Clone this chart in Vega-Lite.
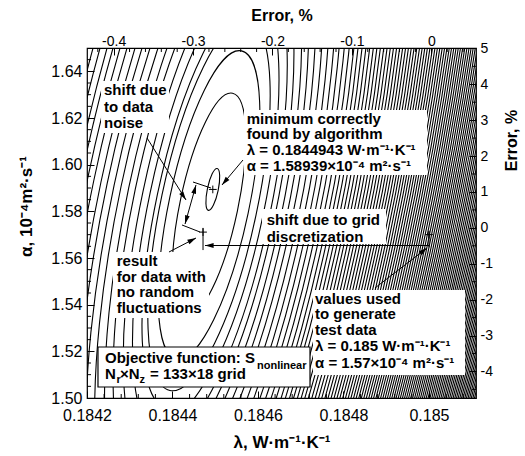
{
 "$schema": "https://vega.github.io/schema/vega-lite/v6.json",
 "width": 389, "height": 350,
 "autosize": {"type": "none"},
 "padding": {"left": 87, "top": 48, "right": 49, "bottom": 58},
 "background": "white",
 "config": {
  "view": {"stroke": "black", "strokeWidth": 1.2},
  "axis": {"domain": false, "grid": false, "labelFont": "Liberation Sans", "titleFont": "Liberation Sans", "titleFontWeight": "bold", "labelColor": "black", "titleColor": "black", "tickColor": "black", "tickWidth": 1, "labelFlush": false, "labelOverlap": false, "labelBound": false}
 },
 "datasets": {
  "contours": [
   {"b":"full","lam":0.1844943,"alpha":1.58939,"level":0.035},
   {"b":"full","lam":0.1844854,"alpha":1.5827,"level":1},
   {"b":"full","lam":0.1844854,"alpha":1.5827,"level":1.9},
   {"b":"full","lam":0.1844854,"alpha":1.5827,"level":2.75},
   {"b":"left","lam":0.1844854,"alpha":1.5827,"level":3.3},
   {"b":"left","lam":0.1844854,"alpha":1.5827,"level":4.3},
   {"b":"left","lam":0.1844854,"alpha":1.5827,"level":5.4},
   {"b":"left","lam":0.1844854,"alpha":1.5827,"level":6.76},
   {"b":"left","lam":0.1844854,"alpha":1.5827,"level":8.02},
   {"b":"left","lam":0.1844854,"alpha":1.5827,"level":9.61},
   {"b":"left","lam":0.1844854,"alpha":1.5827,"level":11.18},
   {"b":"left","lam":0.1844854,"alpha":1.5827,"level":12.89},
   {"b":"left","lam":0.1844854,"alpha":1.5827,"level":14.51},
   {"b":"left","lam":0.1844854,"alpha":1.5827,"level":16.5},
   {"b":"left","lam":0.1844854,"alpha":1.5827,"level":18.36},
   {"b":"left","lam":0.1844854,"alpha":1.5827,"level":20.33},
   {"b":"left","lam":0.1844854,"alpha":1.5827,"level":22.1},
   {"b":"left","lam":0.1844854,"alpha":1.5827,"level":24.28},
   {"b":"left","lam":0.1844854,"alpha":1.5827,"level":26.57},
   {"b":"left","lam":0.1844854,"alpha":1.5827,"level":28.9},
   {"b":"right","lam":0.1844854,"alpha":1.5827,"level":3.6},
   {"b":"right","lam":0.1844854,"alpha":1.5827,"level":4.5},
   {"b":"right","lam":0.1844854,"alpha":1.5827,"level":5.3},
   {"b":"right","lam":0.1844854,"alpha":1.5827,"level":6.3},
   {"b":"right","lam":0.1844854,"alpha":1.5827,"level":7.3},
   {"b":"right","lam":0.1844854,"alpha":1.5827,"level":8.4},
   {"b":"right","lam":0.1844854,"alpha":1.5827,"level":9.6},
   {"b":"right","lam":0.1844854,"alpha":1.5827,"level":10.8},
   {"b":"right","lam":0.1844854,"alpha":1.5827,"level":12.0},
   {"b":"right","lam":0.1844854,"alpha":1.5827,"level":13.2},
   {"b":"right","lam":0.1844854,"alpha":1.5827,"level":14.4},
   {"b":"right","lam":0.1844854,"alpha":1.5827,"level":15.6},
   {"b":"right","lam":0.1844854,"alpha":1.5827,"level":16.8},
   {"b":"right","lam":0.1844854,"alpha":1.5827,"level":17.9},
   {"b":"right","lam":0.1844854,"alpha":1.5827,"level":19.0},
   {"b":"right","lam":0.1844854,"alpha":1.5827,"level":20.1},
   {"b":"right","lam":0.1844854,"alpha":1.5827,"level":21.2},
   {"b":"right","lam":0.1844854,"alpha":1.5827,"level":22.3},
   {"b":"right","lam":0.1844854,"alpha":1.5827,"level":23.4},
   {"b":"right","lam":0.1844854,"alpha":1.5827,"level":24.5},
   {"b":"right","lam":0.1844854,"alpha":1.5827,"level":25.6},
   {"b":"right","lam":0.1844854,"alpha":1.5827,"level":26.7},
   {"b":"right","lam":0.1844854,"alpha":1.5827,"level":27.8},
   {"b":"right","lam":0.1844854,"alpha":1.5827,"level":28.9},
   {"b":"right","lam":0.1844854,"alpha":1.5827,"level":30.0},
   {"b":"right","lam":0.1844854,"alpha":1.5827,"level":31.1},
   {"b":"right","lam":0.1844854,"alpha":1.5827,"level":32.2},
   {"b":"right","lam":0.1844854,"alpha":1.5827,"level":33.3},
   {"b":"right","lam":0.1844854,"alpha":1.5827,"level":34.4},
   {"b":"right","lam":0.1844854,"alpha":1.5827,"level":35.5},
   {"b":"right","lam":0.1844854,"alpha":1.5827,"level":36.6},
   {"b":"right","lam":0.1844854,"alpha":1.5827,"level":37.7},
   {"b":"right","lam":0.1844854,"alpha":1.5827,"level":38.8},
   {"b":"right","lam":0.1844854,"alpha":1.5827,"level":39.9},
   {"b":"right","lam":0.1844854,"alpha":1.5827,"level":41.0},
   {"b":"right","lam":0.1844854,"alpha":1.5827,"level":42.1},
   {"b":"right","lam":0.1844854,"alpha":1.5827,"level":43.2},
   {"b":"right","lam":0.1844854,"alpha":1.5827,"level":44.3},
   {"b":"right","lam":0.1844854,"alpha":1.5827,"level":45.4},
   {"b":"right","lam":0.1844854,"alpha":1.5827,"level":46.5},
   {"b":"right","lam":0.1844854,"alpha":1.5827,"level":47.6},
   {"b":"right","lam":0.1844854,"alpha":1.5827,"level":48.7},
   {"b":"right","lam":0.1844854,"alpha":1.5827,"level":49.8},
   {"b":"right","lam":0.1844854,"alpha":1.5827,"level":50.9},
   {"b":"right","lam":0.1844854,"alpha":1.5827,"level":52.0},
   {"b":"right","lam":0.1844854,"alpha":1.5827,"level":53.1},
   {"b":"right","lam":0.1844854,"alpha":1.5827,"level":54.2},
   {"b":"right","lam":0.1844854,"alpha":1.5827,"level":55.3},
   {"b":"right","lam":0.1844854,"alpha":1.5827,"level":56.4},
   {"b":"right","lam":0.1844854,"alpha":1.5827,"level":57.5},
   {"b":"right","lam":0.1844854,"alpha":1.5827,"level":58.6},
   {"b":"right","lam":0.1844854,"alpha":1.5827,"level":59.7},
   {"b":"right","lam":0.1844854,"alpha":1.5827,"level":60.8},
   {"b":"right","lam":0.1844854,"alpha":1.5827,"level":61.9},
   {"b":"right","lam":0.1844854,"alpha":1.5827,"level":63.0},
   {"b":"right","lam":0.1844854,"alpha":1.5827,"level":64.1},
   {"b":"right","lam":0.1844854,"alpha":1.5827,"level":65.2},
   {"b":"right","lam":0.1844854,"alpha":1.5827,"level":66.3},
   {"b":"right","lam":0.1844854,"alpha":1.5827,"level":67.4},
   {"b":"right","lam":0.1844854,"alpha":1.5827,"level":68.5},
   {"b":"right","lam":0.1844854,"alpha":1.5827,"level":69.6},
   {"b":"right","lam":0.1844854,"alpha":1.5827,"level":70.7},
   {"b":"right","lam":0.1844854,"alpha":1.5827,"level":71.8},
   {"b":"right","lam":0.1844854,"alpha":1.5827,"level":72.9},
   {"b":"right","lam":0.1844854,"alpha":1.5827,"level":74.0},
   {"b":"right","lam":0.1844854,"alpha":1.5827,"level":75.1},
   {"b":"right","lam":0.1844854,"alpha":1.5827,"level":76.2},
   {"b":"right","lam":0.1844854,"alpha":1.5827,"level":77.3},
   {"b":"right","lam":0.1844854,"alpha":1.5827,"level":78.4},
   {"b":"right","lam":0.1844854,"alpha":1.5827,"level":79.5},
   {"b":"right","lam":0.1844854,"alpha":1.5827,"level":80.6},
   {"b":"right","lam":0.1844854,"alpha":1.5827,"level":81.7},
   {"b":"right","lam":0.1844854,"alpha":1.5827,"level":82.8},
   {"b":"right","lam":0.1844854,"alpha":1.5827,"level":83.9},
   {"b":"right","lam":0.1844854,"alpha":1.5827,"level":85.0},
   {"b":"right","lam":0.1844854,"alpha":1.5827,"level":86.1},
   {"b":"right","lam":0.1844854,"alpha":1.5827,"level":87.2},
   {"b":"right","lam":0.1844854,"alpha":1.5827,"level":88.3},
   {"b":"right","lam":0.1844854,"alpha":1.5827,"level":89.4},
   {"b":"right","lam":0.1844854,"alpha":1.5827,"level":90.5},
   {"b":"right","lam":0.1844854,"alpha":1.5827,"level":91.6},
   {"b":"right","lam":0.1844854,"alpha":1.5827,"level":92.7},
   {"b":"right","lam":0.1844854,"alpha":1.5827,"level":93.8},
   {"b":"right","lam":0.1844854,"alpha":1.5827,"level":94.9},
   {"b":"right","lam":0.1844854,"alpha":1.5827,"level":96.0},
   {"b":"right","lam":0.1844854,"alpha":1.5827,"level":97.1},
   {"b":"right","lam":0.1844854,"alpha":1.5827,"level":98.2},
   {"b":"right","lam":0.1844854,"alpha":1.5827,"level":99.3},
   {"b":"right","lam":0.1844854,"alpha":1.5827,"level":100.4},
   {"b":"right","lam":0.1844854,"alpha":1.5827,"level":101.5},
   {"b":"right","lam":0.1844854,"alpha":1.5827,"level":102.6},
   {"b":"right","lam":0.1844854,"alpha":1.5827,"level":103.7},
   {"b":"right","lam":0.1844854,"alpha":1.5827,"level":104.8},
   {"b":"right","lam":0.1844854,"alpha":1.5827,"level":105.9},
   {"b":"right","lam":0.1844854,"alpha":1.5827,"level":107.0},
   {"b":"right","lam":0.1844854,"alpha":1.5827,"level":108.1},
   {"b":"right","lam":0.1844854,"alpha":1.5827,"level":109.2}
  ],
  "boxes": [
   {"lam":0.1842328,"lam2":0.1843918,"alpha":1.635857,"alpha2":1.613571},
   {"lam":0.1845673,"lam2":0.1849954,"alpha":1.623429,"alpha2":1.595571},
   {"lam":0.1846094,"lam2":0.1848995,"alpha":1.581,"alpha2":1.566},
   {"lam":0.1842608,"lam2":0.1844854,"alpha":1.562571,"alpha2":1.534286},
   {"lam":0.1847287,"lam2":0.1850843,"alpha":1.546286,"alpha2":1.509857}
  ],
  "framed": [
   {"lam":0.1842257,"lam2":0.1847217,"alpha":1.521857,"alpha2":1.504714}
  ],
  "lines": [
   {"lam":0.1843404,"alpha":1.611429,"lam2":0.1844316,"alpha2":1.584857},
   {"lam":0.184455,"alpha":1.591286,"lam2":0.1844293,"alpha2":1.574571},
   {"lam":0.1845649,"alpha":1.602,"lam2":0.1845158,"alpha2":1.591286},
   {"lam":0.1843918,"alpha":1.562571,"lam2":0.184455,"alpha2":1.568571},
   {"lam":0.185,"alpha":1.565357,"lam2":0.184476,"alpha2":1.565357},
   {"lam":0.1848737,"alpha":1.547143,"lam2":0.1849954,"alpha2":1.564286},
   {"lam":0.184448,"alpha":1.592571,"lam2":0.1844901,"alpha2":1.59},
   {"lam":0.1844222,"alpha":1.574143,"lam2":0.1844643,"alpha2":1.571143},
   {"lam":0.1844714,"alpha":1.5729,"lam2":0.1844714,"alpha2":1.5634},
   {"lam":0.185,"alpha":1.5714,"lam2":0.185,"alpha2":1.5646}
  ],
  "minorTicks": [
   {"lam":0.1842,"lam2":0.1842094,"alpha":1.505,"alpha2":1.505},
   {"lam":0.1842,"lam2":0.1842094,"alpha":1.51,"alpha2":1.51},
   {"lam":0.1842,"lam2":0.1842094,"alpha":1.515,"alpha2":1.515},
   {"lam":0.1842,"lam2":0.1842094,"alpha":1.525,"alpha2":1.525},
   {"lam":0.1842,"lam2":0.1842094,"alpha":1.53,"alpha2":1.53},
   {"lam":0.1842,"lam2":0.1842094,"alpha":1.535,"alpha2":1.535},
   {"lam":0.1842,"lam2":0.1842094,"alpha":1.545,"alpha2":1.545},
   {"lam":0.1842,"lam2":0.1842094,"alpha":1.55,"alpha2":1.55},
   {"lam":0.1842,"lam2":0.1842094,"alpha":1.555,"alpha2":1.555},
   {"lam":0.1842,"lam2":0.1842094,"alpha":1.565,"alpha2":1.565},
   {"lam":0.1842,"lam2":0.1842094,"alpha":1.57,"alpha2":1.57},
   {"lam":0.1842,"lam2":0.1842094,"alpha":1.575,"alpha2":1.575},
   {"lam":0.1842,"lam2":0.1842094,"alpha":1.585,"alpha2":1.585},
   {"lam":0.1842,"lam2":0.1842094,"alpha":1.59,"alpha2":1.59},
   {"lam":0.1842,"lam2":0.1842094,"alpha":1.595,"alpha2":1.595},
   {"lam":0.1842,"lam2":0.1842094,"alpha":1.605,"alpha2":1.605},
   {"lam":0.1842,"lam2":0.1842094,"alpha":1.61,"alpha2":1.61},
   {"lam":0.1842,"lam2":0.1842094,"alpha":1.615,"alpha2":1.615},
   {"lam":0.1842,"lam2":0.1842094,"alpha":1.625,"alpha2":1.625},
   {"lam":0.1842,"lam2":0.1842094,"alpha":1.63,"alpha2":1.63},
   {"lam":0.1842,"lam2":0.1842094,"alpha":1.635,"alpha2":1.635},
   {"lam":0.1842,"lam2":0.1842094,"alpha":1.645,"alpha2":1.645},
   {"lam":0.18424,"lam2":0.18424,"alpha":1.5,"alpha2":1.501714},
   {"lam":0.18428,"lam2":0.18428,"alpha":1.5,"alpha2":1.501714},
   {"lam":0.18432,"lam2":0.18432,"alpha":1.5,"alpha2":1.501714},
   {"lam":0.18436,"lam2":0.18436,"alpha":1.5,"alpha2":1.501714},
   {"lam":0.18444,"lam2":0.18444,"alpha":1.5,"alpha2":1.501714},
   {"lam":0.18448,"lam2":0.18448,"alpha":1.5,"alpha2":1.501714},
   {"lam":0.18452,"lam2":0.18452,"alpha":1.5,"alpha2":1.501714},
   {"lam":0.18456,"lam2":0.18456,"alpha":1.5,"alpha2":1.501714},
   {"lam":0.18464,"lam2":0.18464,"alpha":1.5,"alpha2":1.501714},
   {"lam":0.18468,"lam2":0.18468,"alpha":1.5,"alpha2":1.501714},
   {"lam":0.18472,"lam2":0.18472,"alpha":1.5,"alpha2":1.501714},
   {"lam":0.18476,"lam2":0.18476,"alpha":1.5,"alpha2":1.501714},
   {"lam":0.18484,"lam2":0.18484,"alpha":1.5,"alpha2":1.501714},
   {"lam":0.18488,"lam2":0.18488,"alpha":1.5,"alpha2":1.501714},
   {"lam":0.18492,"lam2":0.18492,"alpha":1.5,"alpha2":1.501714},
   {"lam":0.18496,"lam2":0.18496,"alpha":1.5,"alpha2":1.501714},
   {"lam":0.18504,"lam2":0.18504,"alpha":1.5,"alpha2":1.501714},
   {"lam":0.18508,"lam2":0.18508,"alpha":1.5,"alpha2":1.501714}
  ],
  "heads": [
   {"lam":0.1844316,"alpha":1.584857,"head":"a"},
   {"lam":0.184455,"alpha":1.591286,"head":"bu"},
   {"lam":0.1844293,"alpha":1.574571,"head":"bd"},
   {"lam":0.1845158,"alpha":1.591286,"head":"c"},
   {"lam":0.184455,"alpha":1.568571,"head":"d"},
   {"lam":0.184476,"alpha":1.565357,"head":"e"},
   {"lam":0.1849954,"alpha":1.564286,"head":"f"}
  ],
  "markers": [
   {"lam":0.1844943,"alpha":1.58939,"what":"minimum"},
   {"lam":0.1844714,"alpha":1.5711,"what":"result"},
   {"lam":0.185,"alpha":1.57,"what":"true values"}
  ],
  "texts": [
   {"lam":0.1842398,"alpha":1.629643,"text":"shift due"},
   {"lam":0.1842398,"alpha":1.6227,"text":"to data"},
   {"lam":0.1842398,"alpha":1.615714,"text":"noise"},
   {"lam":0.1845736,"alpha":1.617429,"text":"minimum correctly"},
   {"lam":0.1845736,"alpha":1.610786,"text":"found by algorithm"},
   {"lam":0.1845736,"alpha":1.604143,"text":"λ = 0.1844943 W·m⁻¹·K⁻¹"},
   {"lam":0.1845736,"alpha":1.597286,"text":"α = 1.58939×10⁻⁴ m²·s⁻¹"},
   {"lam":0.1846204,"alpha":1.574,"text":"shift due to grid"},
   {"lam":0.1846204,"alpha":1.5668,"text":"discretization"},
   {"lam":0.1842695,"alpha":1.556571,"text":"result"},
   {"lam":0.1842695,"alpha":1.549843,"text":"for data with"},
   {"lam":0.1842695,"alpha":1.543157,"text":"no random"},
   {"lam":0.1842695,"alpha":1.5363,"text":"fluctuations"},
   {"lam":0.1847334,"alpha":1.5405,"text":"values used"},
   {"lam":0.1847334,"alpha":1.533643,"text":"to generate"},
   {"lam":0.1847334,"alpha":1.526786,"text":"test data"},
   {"lam":0.1847334,"alpha":1.519929,"text":"λ = 0.185 W·m⁻¹·K⁻¹"},
   {"lam":0.1847334,"alpha":1.513071,"text":"α = 1.57×10⁻⁴ m²·s⁻¹"},
   {"lam":0.1842421,"alpha":1.514871,"text":"Objective function: S"},
   {"lam":0.1842421,"alpha":1.508143,"text":"N"},
   {"lam":0.1842772,"alpha":1.508143,"text":"×N"},
   {"lam":0.1843474,"alpha":1.508143,"text":"= 133×18 grid"}
  ],
  "smallTexts": [
   {"lam":0.1845977,"alpha":1.5123,"text":"nonlinear"},
   {"lam":0.184269,"alpha":1.506429,"text":"r"},
   {"lam":0.1843228,"alpha":1.506429,"text":"z"}
  ],
  "errorAxes": [
   {"errLam": -0.2, "errAlpha": 0}
  ],
  "errorMinorTicks": [
   {"errLam":-0.42,"errLam2":-0.42,"errAlpha":5.01,"errAlpha2":4.899},
   {"errLam":-0.38,"errLam2":-0.38,"errAlpha":5.01,"errAlpha2":4.899},
   {"errLam":-0.36,"errLam2":-0.36,"errAlpha":5.01,"errAlpha2":4.899},
   {"errLam":-0.34,"errLam2":-0.34,"errAlpha":5.01,"errAlpha2":4.899},
   {"errLam":-0.32,"errLam2":-0.32,"errAlpha":5.01,"errAlpha2":4.899},
   {"errLam":-0.28,"errLam2":-0.28,"errAlpha":5.01,"errAlpha2":4.899},
   {"errLam":-0.26,"errLam2":-0.26,"errAlpha":5.01,"errAlpha2":4.899},
   {"errLam":-0.24,"errLam2":-0.24,"errAlpha":5.01,"errAlpha2":4.899},
   {"errLam":-0.22,"errLam2":-0.22,"errAlpha":5.01,"errAlpha2":4.899},
   {"errLam":-0.18,"errLam2":-0.18,"errAlpha":5.01,"errAlpha2":4.899},
   {"errLam":-0.16,"errLam2":-0.16,"errAlpha":5.01,"errAlpha2":4.899},
   {"errLam":-0.14,"errLam2":-0.14,"errAlpha":5.01,"errAlpha2":4.899},
   {"errLam":-0.12,"errLam2":-0.12,"errAlpha":5.01,"errAlpha2":4.899},
   {"errLam":-0.08,"errLam2":-0.08,"errAlpha":5.01,"errAlpha2":4.899},
   {"errLam":-0.06,"errLam2":-0.06,"errAlpha":5.01,"errAlpha2":4.899},
   {"errLam":-0.04,"errLam2":-0.04,"errAlpha":5.01,"errAlpha2":4.899},
   {"errLam":-0.02,"errLam2":-0.02,"errAlpha":5.01,"errAlpha2":4.899},
   {"errLam":0.02,"errLam2":0.02,"errAlpha":5.01,"errAlpha2":4.899},
   {"errLam":0.04,"errLam2":0.04,"errAlpha":5.01,"errAlpha2":4.899},
   {"errLam":0.0563,"errLam2":0.0513,"errAlpha":-4.5,"errAlpha2":-4.5},
   {"errLam":0.0563,"errLam2":0.0513,"errAlpha":-3.5,"errAlpha2":-3.5},
   {"errLam":0.0563,"errLam2":0.0513,"errAlpha":-2.5,"errAlpha2":-2.5},
   {"errLam":0.0563,"errLam2":0.0513,"errAlpha":-1.5,"errAlpha2":-1.5},
   {"errLam":0.0563,"errLam2":0.0513,"errAlpha":-0.5,"errAlpha2":-0.5},
   {"errLam":0.0563,"errLam2":0.0513,"errAlpha":0.5,"errAlpha2":0.5},
   {"errLam":0.0563,"errLam2":0.0513,"errAlpha":1.5,"errAlpha2":1.5},
   {"errLam":0.0563,"errLam2":0.0513,"errAlpha":2.5,"errAlpha2":2.5},
   {"errLam":0.0563,"errLam2":0.0513,"errAlpha":3.5,"errAlpha2":3.5},
   {"errLam":0.0563,"errLam2":0.0513,"errAlpha":4.5,"errAlpha2":4.5}
  ]
 },
 "layer": [
  {
   "encoding": {
    "x": {"field": "lam", "type": "quantitative",
     "scale": {"domain": [0.1842, 0.18511], "nice": false, "zero": false},
     "axis": {"orient": "bottom", "values": [0.1842, 0.1844, 0.1846, 0.1848, 0.185], "format": ".4~f",
      "title": "λ,  W·m⁻¹·K⁻¹", "titleFontSize": 17, "titleY": 49, "titleBaseline": "alphabetic",
      "labelFontSize": 16, "labelPadding": 16, "tickSize": -7}},
    "y": {"field": "alpha", "type": "quantitative",
     "scale": {"domain": [1.5, 1.65], "nice": false, "zero": false},
     "axis": {"orient": "left", "values": [1.5, 1.52, 1.54, 1.56, 1.58, 1.6, 1.62, 1.64], "format": ".2f",
      "title": "α, 10⁻⁴m²·s⁻¹", "titleFontSize": 17, "titleAngle": 270, "titleX": -56, "titleY": 158,
      "titleAlign": "center", "titleBaseline": "alphabetic",
      "labelFontSize": 16, "labelPadding": 12, "tickSize": -7}}
   },
   "layer": [
    {
     "data": {"name": "contours"},
     "transform": [{"filter": "datum.b === 'full'"}],
     "mark": {"type": "point", "shape": "M0,-1C0.1401,-1,0.2537,-0.5523,0.2537,0C0.2537,0.5523,0.1401,1,0,1C-0.1401,1,-0.2537,0.5523,-0.2537,0C-0.2537,-0.5523,-0.1401,-1,0,-1Z",
      "filled": false, "stroke": "black", "strokeWidth": 1.1, "opacity": 1, "angle": 11.9, "clip": true},
     "encoding": {"size": {"field": "level", "type": "quantitative", "scale": {"type": "linear", "domain": [0, 120], "range": [0, 6269880], "zero": true, "nice": false}, "legend": null}}
    },
    {
     "data": {"name": "contours"},
     "transform": [{"filter": "datum.b === 'left'"}],
     "mark": {"type": "point", "shape": "M0,1C-0.1401,1,-0.2537,0.5523,-0.2537,0C-0.2537,-0.5523,-0.1401,-1,0,-1",
      "filled": false, "stroke": "black", "strokeWidth": 1.1, "opacity": 1, "angle": 11.9, "clip": true},
     "encoding": {"size": {"field": "level", "type": "quantitative", "scale": {"type": "linear", "domain": [0, 120], "range": [0, 6269880], "zero": true, "nice": false}, "legend": null}}
    },
    {
     "data": {"name": "contours"},
     "transform": [{"filter": "datum.b === 'right'"}],
     "mark": {"type": "point", "shape": "M0,-1C0.1401,-1,0.2537,-0.5523,0.2537,0C0.2537,0.5523,0.1401,1,0,1",
      "filled": false, "stroke": "black", "strokeWidth": 1.1, "opacity": 1, "angle": 11.9, "clip": true},
     "encoding": {"size": {"field": "level", "type": "quantitative", "scale": {"type": "linear", "domain": [0, 120], "range": [0, 6269880], "zero": true, "nice": false}, "legend": null}}
    },
    {
     "data": {"name": "minorTicks"},
     "mark": {"type": "rule", "color": "black", "strokeWidth": 1},
     "encoding": {"x2": {"field": "lam2"}, "y2": {"field": "alpha2"}}
    },
    {
     "data": {"name": "boxes"},
     "mark": {"type": "rect", "fill": "white", "strokeWidth": 0},
     "encoding": {"x2": {"field": "lam2"}, "y2": {"field": "alpha2"}}
    },
    {
     "data": {"name": "framed"},
     "mark": {"type": "rect", "fill": "white", "stroke": "black", "strokeWidth": 1.2},
     "encoding": {"x2": {"field": "lam2"}, "y2": {"field": "alpha2"}}
    },
    {
     "data": {"name": "lines"},
     "mark": {"type": "rule", "color": "black", "strokeWidth": 1},
     "encoding": {"x2": {"field": "lam2"}, "y2": {"field": "alpha2"}}
    },
    {
     "data": {"name": "heads"},
     "mark": {"type": "point", "filled": true, "fill": "black", "strokeWidth": 0, "opacity": 1, "size": 300},
     "encoding": {"shape": {"field": "head", "type": "nominal", "legend": null,
      "scale": {"domain": ["a", "bu", "bd", "c", "d", "e", "f"],
       "range": ["M0,0L-0.785,-0.679L-0.318,-0.988Z", "M0,0L-0.003,1.038L-0.542,0.886Z", "M0,0L0.003,-1.038L0.542,-0.886Z", "M0,0L0.428,-0.946L0.857,-0.586Z", "M0,0L-0.759,0.709L-1.017,0.212Z", "M0,0L1,-0.28L1,0.28Z", "M0,0L-0.622,0.832L-0.963,0.388Z"]}}}
    },
    {
     "data": {"name": "markers"},
     "mark": {"type": "point", "shape": "M-1,0L1,0M0,-1L0,1", "filled": false, "stroke": "black", "strokeWidth": 1, "opacity": 1, "size": 60}
    },
    {
     "data": {"name": "texts"},
     "mark": {"type": "text", "align": "left", "baseline": "alphabetic", "font": "Liberation Sans", "fontWeight": "bold", "fontSize": 15, "color": "black"},
     "encoding": {"text": {"field": "text"}}
    },
    {
     "data": {"name": "smallTexts"},
     "mark": {"type": "text", "align": "left", "baseline": "alphabetic", "font": "Liberation Sans", "fontWeight": "bold", "fontSize": 11, "color": "black"},
     "encoding": {"text": {"field": "text"}}
    }
   ]
  },
  {
   "encoding": {
    "x": {"field": "errLam", "type": "quantitative",
     "scale": {"domain": [-0.4336, 0.0563], "nice": false, "zero": false},
     "axis": {"orient": "top", "values": [-0.4, -0.3, -0.2, -0.1, 0], "format": ".1~f",
      "labelExpr": "replace(datum.label, '−', '-')",
      "title": "Error, %", "titleFontSize": 16, "titleY": -28, "titleBaseline": "alphabetic",
      "labelFontSize": 14, "labelPadding": 7, "tickSize": -7}},
    "y": {"field": "errAlpha", "type": "quantitative",
     "scale": {"domain": [-4.74, 5.01], "nice": false, "zero": false},
     "axis": {"orient": "right", "values": [-4, -3, -2, -1, 0, 1, 2, 3, 4, 5], "format": "d",
      "labelExpr": "replace(datum.label, '−', '-')",
      "title": "Error, %", "titleFontSize": 16, "titleAngle": 270, "titleX": 40, "titleY": 92,
      "titleAlign": "center", "titleBaseline": "alphabetic",
      "labelFontSize": 14, "labelPadding": 11, "tickSize": -7}}
   },
   "layer": [
    {
     "data": {"name": "errorAxes"},
     "mark": {"type": "point", "opacity": 0}
    },
    {
     "data": {"name": "errorMinorTicks"},
     "mark": {"type": "rule", "color": "black", "strokeWidth": 1},
     "encoding": {"x2": {"field": "errLam2"}, "y2": {"field": "errAlpha2"}}
    }
   ]
  }
 ],
 "resolve": {"scale": {"x": "independent", "y": "independent"}}
}
